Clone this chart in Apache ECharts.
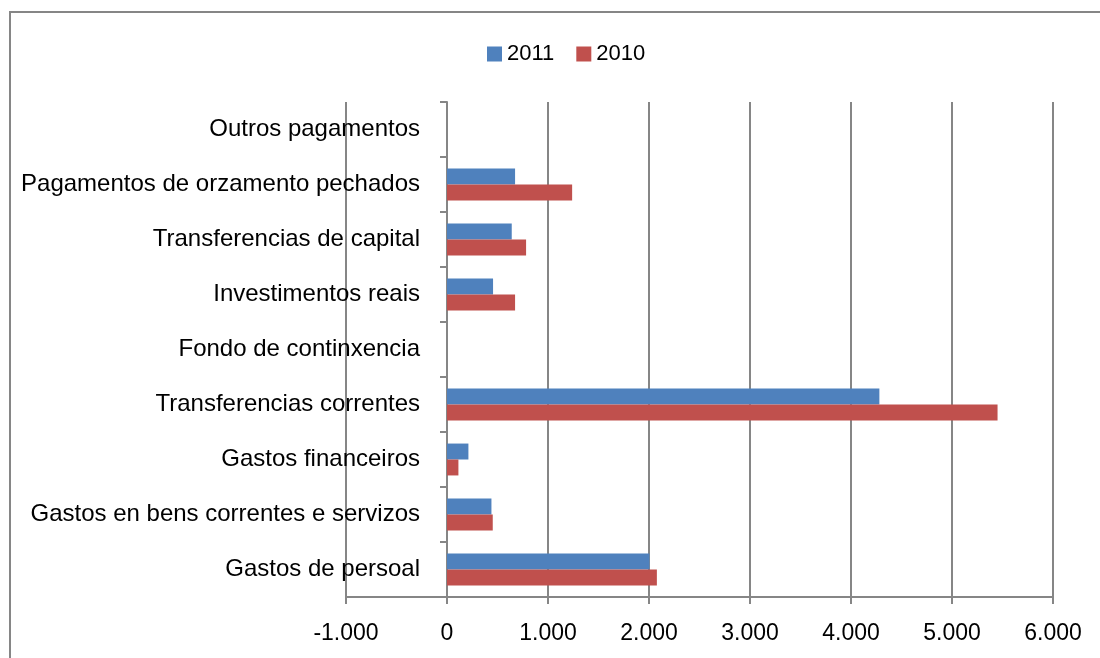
<!DOCTYPE html>
<html>
<head>
<meta charset="utf-8">
<script src="https://cdn.jsdelivr.net/npm/echarts@6/dist/echarts.min.js"></script>
<style>
html,body{margin:0;padding:0;background:#fff;}
#chart{width:1100px;height:658px;}
</style>
</head>
<body>
<div id="chart"></div>
<script>
var categories = [
  "Gastos de persoal",
  "Gastos en bens correntes e servizos",
  "Gastos financeiros",
  "Transferencias correntes",
  "Fondo de continxencia",
  "Investimentos reais",
  "Transferencias de capital",
  "Pagamentos de orzamento pechados",
  "Outros pagamentos"
];
var values2011 = [2005, 440, 212, 4281, 0, 456, 641, 674, 0];
var values2010 = [2078, 453, 113, 5451, 0, 674, 783, 1239, 0];
var xTicks = [-1000, 0, 1000, 2000, 3000, 4000, 5000, 6000];

var FONT = "Liberation Sans";
var chart = echarts.init(document.getElementById('chart'), null, {renderer: 'canvas'});
function fmt(v) {
  var s = Math.abs(v).toString().replace(/\B(?=(\d{3})+(?!\d))/g, '.');
  return (v < 0 ? '-' : '') + s;
}
chart.setOption({
  animation: false,
  backgroundColor: '#ffffff',
  textStyle: {fontFamily: FONT},
  graphic: [{
    type: 'rect',
    shape: {x: 10, y: 12, width: 1100, height: 660},
    style: {fill: 'none', stroke: '#868686', lineWidth: 2},
    silent: true
  }],
  legend: {
    top: 38,
    left: 482,
    itemWidth: 15,
    itemHeight: 15,
    itemGap: 22,
    icon: 'rect',
    data: ['2011', '2010'],
    textStyle: {fontFamily: FONT, fontSize: 22, color: '#000'}
  },
  grid: {left: 346, right: 47, top: 102, bottom: 61, containLabel: false, outerBoundsMode: 'none'},
  xAxis: {
    type: 'value',
    min: xTicks[0],
    max: xTicks[xTicks.length - 1],
    interval: 1000,
    axisLine: {show: true, lineStyle: {color: '#868686', width: 2}},
    axisTick: {show: true, length: 7, lineStyle: {color: '#868686', width: 2}},
    splitLine: {show: true, lineStyle: {color: '#868686', width: 2}},
    axisLabel: {
      margin: 25,
      fontFamily: FONT, fontSize: 23, color: '#000',
      formatter: function (v) { return fmt(v); }
    }
  },
  yAxis: {
    type: 'category',
    data: categories,
    axisLine: {show: true, onZero: true, lineStyle: {color: '#868686', width: 2}},
    axisTick: {show: true, length: 7, lineStyle: {color: '#868686', width: 2}},
    axisLabel: {margin: -74, fontFamily: FONT, fontSize: 24, color: '#000'}
  },
  series: [
    {
      name: '2011', type: 'bar', data: values2011,
      itemStyle: {color: '#4F81BD'},
      barGap: '0%', barCategoryGap: '42%'
    },
    {
      name: '2010', type: 'bar', data: values2010,
      itemStyle: {color: '#C0504D'},
      barGap: '0%', barCategoryGap: '42%'
    }
  ]
});
</script>
</body>
</html>
